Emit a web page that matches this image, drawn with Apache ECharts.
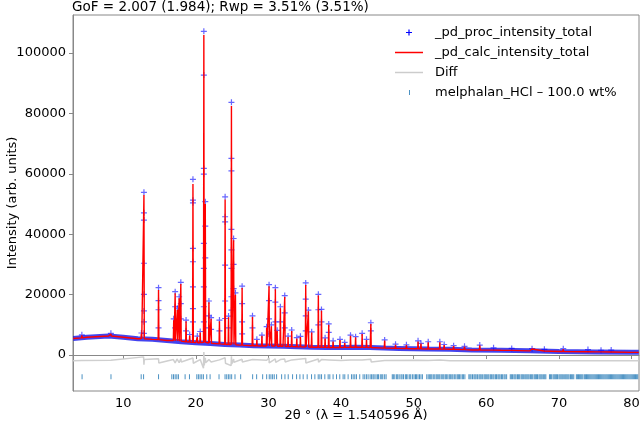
<!DOCTYPE html>
<html><head><meta charset="utf-8">
<script src="https://cdn.jsdelivr.net/npm/echarts@6/dist/echarts.min.js"></script>
<style>html,body{margin:0;padding:0;background:#fff}#c{width:641px;height:426px}</style>
</head><body><div id="c"></div>
<script>
const titleText = 'GoF = 2.007 (1.984); Rwp = 3.51% (3.51%)';
const xName = '2θ ° (λ = 1.540596 Å)';
const yName = 'Intensity (arb. units)';
const seriesNames = ['_pd_proc_intensity_total', '_pd_calc_intensity_total', 'Diff', 'melphalan_HCl – 100.0 wt%'];
const xTicks = [10, 20, 30, 40, 50, 60, 70, 80];
const yTicks = [0, 20000, 40000, 60000, 80000, 100000];

// background of the pattern: [2θ, intensity]
const background = [
  [3.1,5500],[5,5900],[8,6300],[10,5900],[12,5400],[14,5200],[16,4800],[18,4400],[20,4100],[22,3800],
  [24,3500],[26,3300],[28,3100],[30,3000],[32,2900],[34,2750],[36,2600],[38,2500],[40,2500],[42,2600],
  [44,2500],[46,2300],[48,2200],[50,2100],[52,2000],[55,1900],[58,1700],[62,1600],[66,1400],[70,1200],
  [75,1050],[80,900],[81,900]
];

// peaks: [2θ, base intensity, calculated top, observed top]
const peaks = [
  [4.3,5700,6500,6700],[8.3,6300,7000,7200],[12.5,5400,7000,7300],[12.85,5400,53000,53900],
  [14.86,5100,21500,22300],[16.95,4800,11500,12000],[17.15,4700,20500,21000],[17.45,4700,15000,15500],
  [17.7,4600,18800,19300],[17.93,4600,23500,24100],[18.65,4400,11200,11600],[19.15,4300,6500,6800],
  [19.6,4200,56600,58200],[20.2,4100,6000,6300],[20.6,4100,7500,7800],[21.1,4200,106000,107200],
  [21.3,4200,50000,50800],[21.8,4000,17500,17900],[22.1,3900,12000,12400],[23.25,3700,11200,11600],
  [24.03,3600,51500,52400],[24.5,3500,12500,12900],[24.9,3500,82500,83700],[25.2,3500,38000,38600],
  [25.45,3400,20000,20600],[26.37,3300,22200,22800],[27.8,3100,12600,13000],[28.4,3100,5000,5200],
  [29.1,3000,6400,6600],[29.75,3000,9000,9400],[30.08,3000,22800,23300],[30.4,3000,9500,10000],
  [30.95,3000,21800,22300],[31.2,2900,8000,8200],[31.64,2900,15500,16000],[32.24,2900,19200,19700],
  [32.7,2850,6000,6300],[33.2,2800,8000,8300],[33.9,2750,5500,5800],[34.4,2700,6000,6200],
  [35.13,2650,23200,23900],[35.5,2650,14500,14900],[35.95,2600,7500,7700],[36.87,2600,19700,20100],
  [37.3,2550,14700,15100],[37.8,2550,5500,5700],[38.3,2500,10000,10300],[38.9,2500,4500,4700],
  [39.85,2500,5000,5200],[40.5,2550,4000,4200],[41.3,2600,6400,6600],[42.0,2600,5900,6100],
  [42.9,2600,7000,7200],[43.5,2550,5000,5200],[44.1,2500,10300,10700],[46.0,2300,4800,5000],
  [47.5,2250,3400,3600],[49.0,2150,3300,3400],[50.6,2100,4500,4700],[51.0,2100,3800,3900],
  [52.0,2000,4200,4400],[53.6,2000,4200,4400],[54.2,1950,3300,3500],[55.5,1900,3000,3100],
  [57.0,1800,2800,2900],[59.1,1700,3200,3300],[61.0,1650,2300,2400],[63.5,1550,2100,2200],
  [66.3,1400,2000,2100],[68.0,1350,1800,1900],[70.6,1200,2000,2100],[74.0,1100,1700,1800],
  [75.8,1050,1500,1600],[77.2,1000,1600,1650]
];

// observed points on peak flanks: [2θ, intensity]
const obsFlank = [
  [12.85,47100],[12.85,44700],[12.85,30400],[12.85,20100],[12.85,14600],[12.85,11000],[12.85,7200],
  [21.1,92700],[21.1,61800],[21.1,59900],[21.1,37000],[21.1,28700],[21.1,22600],[21.1,16000],[21.1,11000],
  [21.3,42700],[21.3,32200],
  [24.9,65100],[24.9,61000],[24.9,41600],[24.9,34800],[24.9,28700],[24.9,19300],[24.9,14900],
  [19.6,51300],[19.6,50400],[19.6,35300],[19.6,30900],[19.6,22600],[19.6,15400],[19.6,11000],
  [24.03,45800],[24.03,44100],[24.03,29800],[24.03,17900],[24.03,12100],
  [14.86,18000],[14.86,15000],[14.86,9000],[17.93,17000],[17.93,12000],[17.15,16000],[17.15,9000],
  [26.37,17000],[26.37,11000],[26.37,7000],[30.08,18000],[30.08,12000],[30.08,7000],
  [30.95,17500],[30.95,11000],[32.24,14000],[32.24,9000],[35.13,18500],[35.13,13000],[35.13,8000],
  [36.87,15000],[36.87,10000],[31.64,11000],[37.3,11000],[44.1,8000],[21.8,13000],[21.8,9000],
  [27.8,9000],[23.25,8000],[38.3,7500],[22.1,8500],[18.65,8000],[24.5,9000],[25.2,30000],[25.2,22000]
];

// difference curve (offset): [2θ, intensity]
const diffCurve = [
  [3.1,-1900],[4.3,-1800],[4.4,-2000],[8.3,-1700],[8.4,-2100],[12.8,-600],[12.85,-3200],[12.9,-1500],
  [14.86,-1200],[14.9,-2600],[16.9,-1500],[17.15,-2600],[17.4,-1300],[17.7,-2500],[17.93,-1200],[18.0,-2300],
  [19.6,-1000],[19.65,-2700],[20.6,-1500],[21.05,-4400],[21.1,1000],[21.15,-3400],[21.3,-900],[21.35,-2500],
  [21.8,-1500],[22.1,-2300],[23.25,-1600],[24.03,-900],[24.08,-2700],[24.85,-3500],[24.9,-400],[24.95,-3000],
  [25.2,-1300],[25.25,-2400],[26.37,-1400],[26.4,-2300],[27.8,-1500],[29.75,-1700],[30.08,-1000],[30.1,-2600],
  [30.95,-1300],[31.0,-2400],[31.64,-1500],[32.24,-1300],[32.3,-2300],[33.2,-1600],[35.13,-1100],[35.15,-2600],
  [36.87,-1300],[36.9,-2400],[37.3,-1500],[38.3,-1600],[40,-1800],[41.3,-1600],[42.9,-1600],[44.1,-1400],
  [44.15,-2300],[46,-1800],[50.6,-1700],[52,-1800],[53.6,-1600],[53.65,-2100],[55,-1900],[60,-1900],
  [65,-1900],[70,-1900],[75,-1900],[81,-1900]
];

// reflection positions (2θ)
const reflections = [
  4.33,8.31,12.47,12.8,14.86,16.69,16.92,17.15,17.38,17.6,18.52,19.12,20.13,20.35,20.58,20.81,21.04,21.5,21.96,
  23.19,24.02,24.25,24.48,24.7,24.93,25.39,26.17,27.82,28.37,29.2,29.75,30.11,30.34,30.57,30.8,31.12,31.81,
  32.27,32.72,33.32,33.87,34.33,34.78,35.33,35.93,36.39,36.85,37.08,37.31,37.76,38.22,38.45,38.9,39.37,39.82,
  40.28,40.51,40.97,41.43,41.66,41.89,42.12,42.57,43.03,43.26,43.49,43.72,
  44.0,44.2,44.4,44.55,44.8,45.0,45.15,45.4,45.6,45.75,46.0,46.2,47.05,47.2,47.4,47.65,47.8,48.0,48.25,48.4,
  48.6,48.85,49.0,49.2,49.45,49.6,49.85,50.05,50.25,50.4,50.6,50.8,51.0,51.2,51.8,52.0,52.2,52.35,52.5,52.7,
  52.9,53.1,53.25,53.45,53.6,53.8,54.0,54.15,54.35,54.5,54.7,54.9,55.05,55.25,55.4,55.6,55.8,56.0,56.15,56.3,
  56.5,56.7,56.85,57.05,57.6,57.75,57.9,58.1,58.3,58.45,58.6,58.8,59.0,59.15,59.3,59.5,59.7,59.85,60.0,60.2,
  60.35,60.55,60.7,60.9,61.05,61.25,61.4,61.6,61.75,61.9,62.1,62.25,62.45,62.6,62.8,63.3,63.45,63.6,63.8,
  63.95,64.1,64.3,64.45,64.6,64.8,64.95,65.1,65.3,65.45,65.6,65.75,65.9,66.1,66.25,66.4,66.6,66.75,66.9,67.05,
  67.25,67.4,67.55,67.7,67.9,68.05,68.2,68.7,68.85,69.0,69.2,69.35,69.5,69.65,69.8,70.0,70.15,70.3,70.45,70.6,
  70.8,70.95,71.1,71.25,71.4,71.6,71.75,71.9,72.05,72.4,72.55,72.7,72.85,73.0,73.15,73.3,73.5,73.65,73.8,73.95,
  74.1,74.25,74.4,74.55,74.7,74.85,75.0,75.15,75.3,75.45,75.6,75.75,75.9,76.05,76.2,76.35,76.5,76.65,76.8,
  76.95,77.1,77.25,77.4,77.55,77.7,77.85,78.0,78.15,78.3,78.45,78.6,78.75,78.9,79.05,79.2,79.35,79.5,79.65,
  79.8,79.95,80.1,80.25,80.4,80.55,80.7,80.85
];

// ---- build series data from the values above ----
const PEAK_HALF = 0.05; // drawn half width of a reflection profile (degrees)
const calcData = background.map(p => [p[0], p[1]]);
peaks.forEach(p => { calcData.push([p[0] - PEAK_HALF, p[1]], [p[0], p[2]], [p[0] + PEAK_HALF, p[1]]); });
calcData.sort((a, b) => a[0] - b[0]);
const obsMarks = peaks.map(p => [p[0], p[3]]).concat(obsFlank);
const TICK_LEVEL = -7200;
const tickData = reflections.map(t => [t, TICK_LEVEL]);

const FONT = 'DejaVu Sans';
const PLUS = 'path://M2.4,0h1.2v2.4h2.4v1.2h-2.4v2.4h-1.2v-2.4h-2.4v-1.2h2.4z';
const chart = echarts.init(document.getElementById('c'), null, {renderer: 'canvas'});
const legendText = {fontFamily: FONT, fontSize: 13, color: '#000'};
chart.setOption({
  animation: false,
  backgroundColor: '#fff',
  title: {text: titleText, left: 72, top: 0, padding: 0,
    textStyle: {fontFamily: FONT, fontSize: 13.5, fontWeight: 'normal', color: '#000'}},
  grid: {left: 73, right: 2, top: 15, bottom: 35, containLabel: false, outerBoundsMode: 'none',
    show: true, borderColor: '#888', borderWidth: 1, backgroundColor: 'transparent'},
  legend: [
    {data: [{name: seriesNames[0], icon: PLUS}], left: 406, top: 26, padding: 0, itemWidth: 6, itemHeight: 6,
      textStyle: Object.assign({padding: [0,0,0,18]}, legendText)},
    {data: [{name: seriesNames[1], icon: 'rect'}], left: 395, top: 46, padding: 0, itemWidth: 28, itemHeight: 1.5,
      textStyle: Object.assign({padding: [0,0,0,7]}, legendText)},
    {data: [{name: seriesNames[2], icon: 'rect'}], left: 395, top: 66, padding: 0, itemWidth: 28, itemHeight: 1.5,
      textStyle: Object.assign({padding: [0,0,0,7]}, legendText)},
    {data: [{name: seriesNames[3], icon: 'rect'}], left: 409, top: 86, padding: 0, itemWidth: 1, itemHeight: 5,
      textStyle: Object.assign({padding: [0,0,0,20]}, legendText)}
  ],
  xAxis: {
    type: 'value', min: 3.08, max: 81.03,
    name: xName, nameLocation: 'middle', nameGap: 18, nameMoveOverlap: false,
    nameTextStyle: {fontFamily: FONT, fontSize: 13, color: '#000'},
    axisLine: {show: true, lineStyle: {color: '#888'}},
    axisTick: {show: true, length: 4, customValues: xTicks, lineStyle: {color: '#888'}},
    axisLabel: {customValues: xTicks, formatter: v => String(v), fontFamily: FONT, fontSize: 13, color: '#000', margin: 6},
    splitLine: {show: false}
  },
  yAxis: {
    type: 'value', min: -11900, max: 112600,
    name: yName, nameLocation: 'middle', nameGap: 54, nameRotate: 90, nameMoveOverlap: false,
    nameTextStyle: {fontFamily: FONT, fontSize: 13, color: '#000'},
    axisLine: {show: true, lineStyle: {color: '#888'}},
    axisTick: {show: true, length: 4, customValues: yTicks, lineStyle: {color: '#888'}},
    axisLabel: {customValues: yTicks, formatter: v => String(v), fontFamily: FONT, fontSize: 13, color: '#000', margin: 7},
    splitLine: {show: false}
  },
  series: [
    {name: seriesNames[0], type: 'line', data: background, showSymbol: false, symbol: 'none',
      color: '#0000ff', lineStyle: {width: 5, color: 'rgba(20,20,235,0.8)'}, z: 1, silent: true},
    {name: seriesNames[0], type: 'scatter', data: obsMarks, symbol: PLUS, symbolSize: 6,
      itemStyle: {color: 'rgba(0,0,255,0.75)'}, z: 2},
    {name: seriesNames[1], type: 'line', data: calcData, showSymbol: false, symbol: 'none',
      color: '#ff0000', lineStyle: {width: 1.4, color: '#ff0000'}, z: 3},
    {name: seriesNames[2], type: 'line', data: diffCurve, showSymbol: false, symbol: 'none',
      color: '#cccccc', lineStyle: {width: 1.5, color: '#cfcfcf'}, z: 2},
    {name: seriesNames[3], type: 'scatter', data: tickData, symbol: 'rect', symbolSize: [1, 5],
      itemStyle: {color: '#1f77b4'}, z: 2}
  ]
});
</script></body></html>
